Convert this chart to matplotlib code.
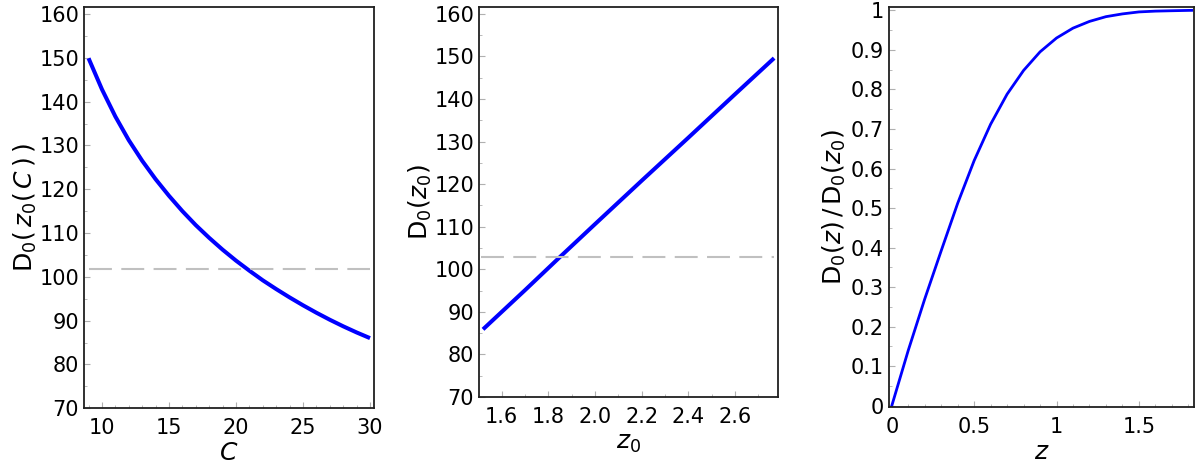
import matplotlib
matplotlib.use("Agg")
import matplotlib.pyplot as plt
from matplotlib.ticker import MultipleLocator, FormatStrFormatter, FuncFormatter

# values
cValues = [9, 10, 11, 12, 13, 14, 15, 16, 17, 18, 19, 20, 21, 22, 23, 24, 25, 26, 27, 28, 29, 30]
dOfC = [149.9, 142.8, 136.6, 131.2, 126.5, 122.3, 118.5, 115.0, 111.8, 108.9, 106.2,
        103.7, 101.4, 99.2, 97.2, 95.3, 93.5, 91.8, 90.2, 88.7, 87.3, 86.0]
dRefLeft = 101.7

z0Values = [1.52, 1.7, 1.85, 2.0, 2.2, 2.4, 2.6, 2.768]
dOfZ0 = [85.9, 95.1, 102.9, 110.6, 120.8, 130.9, 141.1, 149.6]
dRefMid = 102.8

zValues = [0, 0.05, 0.1, 0.2, 0.3, 0.4, 0.5, 0.6, 0.7, 0.8, 0.9,
           1.0, 1.1, 1.2, 1.3, 1.4, 1.5, 1.6, 1.7, 1.82]
ratioValues = [0, 0.07, 0.14, 0.27, 0.392, 0.512, 0.62, 0.712, 0.788, 0.848, 0.895,
               0.930, 0.955, 0.972, 0.984, 0.991, 0.996, 0.998, 0.999, 1.0]

blue = "#0000FF"
gray = "#C0C0C0"


def styleAxes(ax):
    for s in ax.spines.values():
        s.set_linewidth(1.3)
        s.set_color("#202020")
    ax.tick_params(which="both", direction="in", colors="#B0B0B0", labelcolor="black",
                   labelsize=15, top=False, right=False)
    ax.tick_params(which="major", length=4, width=0.8)
    ax.tick_params(which="minor", length=2.5, width=0.6)
    ax.tick_params(axis="x", which="major", pad=7)


def Main():
    plt.rcParams["font.family"] = ["DejaVu Sans"]
    plt.rcParams["mathtext.fontset"] = "dejavusans"

    fig = plt.figure(figsize=(12, 4.66), dpi=100)

    # left panel
    ax1 = fig.add_axes([0.070, 0.124, 0.2417, 0.860])
    ax1.plot(cValues, dOfC, color=blue, lw=2.9, solid_capstyle="butt")
    ax1.plot([cValues[0], cValues[-1]], [dRefLeft, dRefLeft], color=gray, lw=1.5, dashes=(11, 4.5))
    ax1.set_xlim(8.66, 30.3)
    ax1.set_ylim(70, 161.5)
    ax1.xaxis.set_major_locator(MultipleLocator(5))
    ax1.xaxis.set_minor_locator(MultipleLocator(1))
    ax1.yaxis.set_major_locator(MultipleLocator(10))
    ax1.yaxis.set_minor_locator(MultipleLocator(5))
    ax1.set_xlabel(r"$C$", fontsize=18, labelpad=2)
    ax1.set_ylabel(r"$\mathrm{D}_{\mathit{0}}\left(\,z_{0}\left(\,C\,\right)\,\right)$", fontsize=18, labelpad=0)
    styleAxes(ax1)

    # middle panel
    ax2 = fig.add_axes([0.3992, 0.148, 0.2492, 0.836])
    ax2.plot(z0Values, dOfZ0, color=blue, lw=2.9, solid_capstyle="butt")
    ax2.plot([z0Values[0] - 0.01, z0Values[-1]], [dRefMid, dRefMid], color=gray, lw=1.5, dashes=(11, 4.5))
    ax2.set_xlim(1.503, 2.785)
    ax2.set_ylim(70, 161.5)
    ax2.xaxis.set_major_locator(MultipleLocator(0.2))
    ax2.xaxis.set_minor_locator(MultipleLocator(0.1))
    ax2.xaxis.set_major_formatter(FormatStrFormatter("%.1f"))
    ax2.yaxis.set_major_locator(MultipleLocator(10))
    ax2.yaxis.set_minor_locator(MultipleLocator(5))
    ax2.set_xlabel(r"$z_{0}$", fontsize=18, labelpad=3)
    ax2.set_ylabel(r"$\mathrm{D}_{\mathit{0}}\left(z_{0}\right)$", fontsize=18, labelpad=0)
    styleAxes(ax2)

    # right panel
    ax3 = fig.add_axes([0.7408, 0.1266, 0.254, 0.858])
    ax3.plot(zValues, ratioValues, color=blue, lw=2.0)
    ax3.set_xlim(-0.017, 1.833)
    ax3.set_ylim(-0.003, 1.008)
    ax3.xaxis.set_major_locator(MultipleLocator(0.5))
    ax3.xaxis.set_minor_locator(MultipleLocator(0.1))
    ax3.yaxis.set_major_locator(MultipleLocator(0.1))
    ax3.yaxis.set_minor_locator(MultipleLocator(0.05))
    gFormat = FuncFormatter(lambda v, p: "%g" % round(v, 2))
    ax3.xaxis.set_major_formatter(gFormat)
    ax3.yaxis.set_major_formatter(gFormat)
    ax3.set_xlabel(r"$z$", fontsize=18, labelpad=2)
    ax3.set_ylabel(r"$\mathrm{D}_{\mathit{0}}\left(z\right)\,/\,\mathrm{D}_{\mathit{0}}\left(z_{0}\right)$",
                   fontsize=18, labelpad=2)
    styleAxes(ax3)

    fig.savefig("out.png", dpi=100)


Main()
